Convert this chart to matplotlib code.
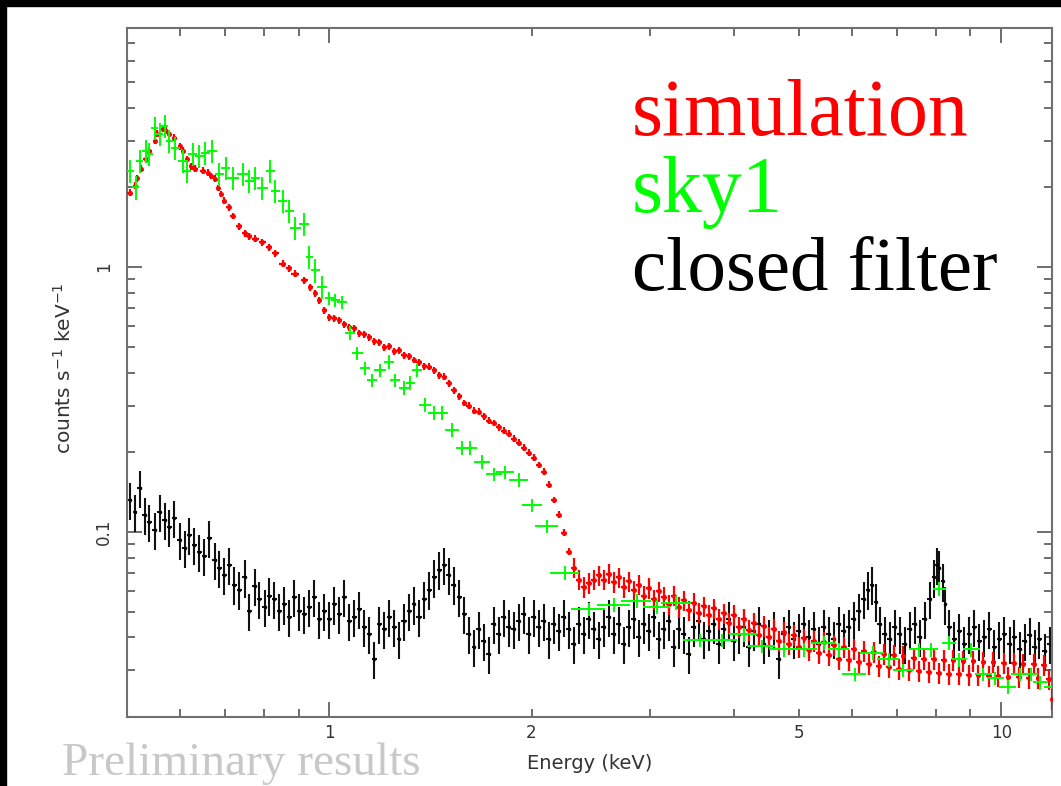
import numpy as np
import matplotlib
matplotlib.use("Agg")
import matplotlib.pyplot as plt
from matplotlib.patches import Rectangle

# ---- data (energy in keV, counts s^-1 keV^-1) ----
black_E = [0.505, 0.514, 0.522, 0.531, 0.540, 0.550, 0.559, 0.569, 0.578, 0.588,
           0.599, 0.609, 0.619, 0.630, 0.641, 0.652, 0.663, 0.675, 0.686, 0.698,
           0.710, 0.722, 0.735, 0.748, 0.760, 0.774, 0.787, 0.801, 0.814, 0.828,
           0.843, 0.857, 0.872, 0.887, 0.902, 0.918, 0.934, 0.950, 0.966, 0.983,
           1.000, 1.017, 1.035, 1.053, 1.071, 1.089, 1.108, 1.127, 1.147, 1.166,
           1.186, 1.207, 1.228, 1.249, 1.270, 1.292, 1.315, 1.337, 1.360, 1.384,
           1.408, 1.432, 1.457, 1.482, 1.507, 1.533, 1.560, 1.587, 1.614, 1.642,
           1.670, 1.699, 1.728, 1.758, 1.788, 1.819, 1.851, 1.883, 1.915, 1.948,
           1.982, 2.016, 2.051, 2.086, 2.122, 2.159, 2.196, 2.234, 2.272, 2.312,
           2.352, 2.392, 2.433, 2.475, 2.518, 2.562, 2.606, 2.651, 2.697, 2.743,
           2.791, 2.839, 2.888, 2.938, 2.988, 3.040, 3.092, 3.146, 3.200, 3.255,
           3.312, 3.369, 3.427, 3.486, 3.546, 3.608, 3.670, 3.733, 3.798, 3.863,
           3.930, 3.998, 4.067, 4.137, 4.209, 4.281, 4.355, 4.430, 4.507, 4.585,
           4.664, 4.745, 4.827, 4.910, 4.995, 5.081, 5.169, 5.258, 5.349, 5.441,
           5.535, 5.631, 5.728, 5.827, 5.928, 6.030, 6.134, 6.240, 6.326, 6.413,
           6.501, 6.590, 6.704, 6.820, 6.938, 7.058, 7.180, 7.304, 7.430, 7.558,
           7.689, 7.822, 7.929, 8.011, 8.093, 8.177, 8.261, 8.375, 8.520, 8.667,
           8.817, 8.969, 9.124, 9.282, 9.442, 9.605, 9.771, 9.940, 10.11, 10.29,
           10.46, 10.65, 10.83, 11.02, 11.21, 11.40, 11.60, 11.80]
black_y = [0.132, 0.119, 0.146, 0.116, 0.109, 0.102, 0.119, 0.111, 0.104, 0.113,
           0.0934, 0.0872, 0.0975, 0.0894, 0.0842, 0.0813, 0.0950, 0.0786, 0.0733, 0.0690,
           0.0752, 0.0633, 0.0606, 0.0673, 0.0501, 0.0627, 0.0556, 0.0519, 0.0575, 0.0556,
           0.0501, 0.0532, 0.0476, 0.0566, 0.0501, 0.0488, 0.0519, 0.0566, 0.0468, 0.0501,
           0.0468, 0.0532, 0.0488, 0.0566, 0.0460, 0.0476, 0.0510, 0.0437, 0.0411, 0.0331,
           0.0448, 0.0429, 0.0476, 0.0437, 0.0393, 0.0460, 0.0501, 0.0532, 0.0476, 0.0556,
           0.0606, 0.0673, 0.0721, 0.0752, 0.0690, 0.0633, 0.0566, 0.0488, 0.0411, 0.0367,
           0.0429, 0.0387, 0.0345, 0.0448, 0.0411, 0.0476, 0.0437, 0.0429, 0.0460, 0.0488,
           0.0411, 0.0476, 0.0437, 0.0460, 0.0393, 0.0448, 0.0422, 0.0476, 0.0429, 0.0377,
           0.0448, 0.0411, 0.0468, 0.0429, 0.0393, 0.0437, 0.0476, 0.0411, 0.0448, 0.0377,
           0.0437, 0.0468, 0.0400, 0.0448, 0.0422, 0.0476, 0.0393, 0.0429, 0.0460, 0.0367,
           0.0429, 0.0411, 0.0345, 0.0437, 0.0460, 0.0393, 0.0422, 0.0448, 0.0377, 0.0429,
           0.0468, 0.0387, 0.0411, 0.0437, 0.0367, 0.0422, 0.0448, 0.0377, 0.0400, 0.0429,
           0.0331, 0.0411, 0.0437, 0.0393, 0.0422, 0.0448, 0.0400, 0.0429, 0.0377, 0.0437,
           0.0411, 0.0393, 0.0448, 0.0422, 0.0437, 0.0468, 0.0501, 0.0556, 0.0606, 0.0633,
           0.0546, 0.0448, 0.0411, 0.0393, 0.0437, 0.0411, 0.0377, 0.0429, 0.0448, 0.0400,
           0.0468, 0.0556, 0.0673, 0.0752, 0.0733, 0.0650, 0.0532, 0.0437, 0.0393, 0.0422,
           0.0377, 0.0411, 0.0437, 0.0387, 0.0400, 0.0429, 0.0367, 0.0393, 0.0411, 0.0377,
           0.0400, 0.0361, 0.0387, 0.0407, 0.0367, 0.0393, 0.0354, 0.0377]

sim_E = [0.505, 0.514, 0.518, 0.524, 0.533, 0.540, 0.550, 0.555, 0.565, 0.571,
         0.578, 0.588, 0.599, 0.605, 0.615, 0.622, 0.632, 0.648, 0.659, 0.666,
         0.675, 0.682, 0.689, 0.698, 0.708, 0.718, 0.735, 0.748, 0.760, 0.776,
         0.795, 0.814, 0.831, 0.852, 0.872, 0.890, 0.918, 0.937, 0.953, 0.966,
         0.983, 1.000,
         1.017, 1.035, 1.053, 1.071, 1.089, 1.108, 1.127, 1.147, 1.166, 1.186,
         1.207, 1.228, 1.249, 1.270, 1.292, 1.315, 1.337, 1.360, 1.384, 1.408,
         1.432, 1.457, 1.482, 1.507, 1.533, 1.560, 1.587, 1.614, 1.642, 1.670,
         1.699, 1.728, 1.758, 1.788, 1.819, 1.851, 1.883, 1.915, 1.948, 1.982,
         2.016, 2.051, 2.086, 2.122, 2.159, 2.196, 2.234, 2.272, 2.312, 2.352,
         2.392, 2.433, 2.475, 2.518,
         2.562, 2.606, 2.651, 2.697, 2.743, 2.791, 2.839, 2.888, 2.938, 2.988,
         3.040, 3.092, 3.146, 3.200, 3.255, 3.312, 3.369, 3.427, 3.486, 3.546,
         3.608, 3.670, 3.733, 3.798, 3.863, 3.930, 3.998, 4.067, 4.137, 4.209,
         4.281, 4.355, 4.430, 4.507, 4.585, 4.664, 4.745, 4.827, 4.910, 4.995,
         5.081, 5.169, 5.258, 5.349, 5.441, 5.535, 5.631, 5.728, 5.827, 5.928,
         6.030, 6.134, 6.240, 6.346, 6.456, 6.567, 6.681, 6.796, 6.914, 7.033,
         7.154, 7.278, 7.404, 7.532, 7.662, 7.794, 7.929, 8.066, 8.205, 8.347,
         8.491, 8.638, 8.787, 8.939, 9.093, 9.250, 9.410, 9.573, 9.738, 9.906,
         10.08, 10.25, 10.43, 10.61, 10.79, 10.98, 11.17, 11.36, 11.56, 11.76,
         11.92]
sim_y = [1.91, 2.03, 2.17, 2.35, 2.56, 2.75, 3.00, 3.19, 3.33, 3.27,
         3.19, 3.08, 2.86, 2.75, 2.56, 2.40, 2.35, 2.31, 2.27, 2.21,
         2.16, 1.99, 1.89, 1.78, 1.68, 1.56, 1.43, 1.34, 1.31, 1.28,
         1.24, 1.19, 1.13, 1.03, 0.989, 0.946, 0.891, 0.840, 0.796, 0.749,
         0.687, 0.647,
         0.641, 0.630, 0.608, 0.593, 0.588, 0.563, 0.558, 0.544, 0.525, 0.521,
         0.498, 0.503, 0.481, 0.486, 0.465, 0.461, 0.446, 0.438, 0.423, 0.420,
         0.408, 0.391, 0.385, 0.365, 0.343, 0.326, 0.307, 0.300, 0.287, 0.284,
         0.274, 0.263, 0.258, 0.249, 0.241, 0.235, 0.225, 0.217, 0.208, 0.199,
         0.191, 0.179, 0.169, 0.151, 0.132, 0.116, 0.0992, 0.0842, 0.0733, 0.0661,
         0.0618, 0.0640, 0.0661, 0.0685,
         0.0661, 0.0696, 0.0645, 0.0673, 0.0618, 0.0650, 0.0601, 0.0633, 0.0575, 0.0612,
         0.0556, 0.0596, 0.0566, 0.0532, 0.0575, 0.0519, 0.0551, 0.0505, 0.0541, 0.0496,
         0.0523, 0.0484, 0.0514, 0.0468, 0.0492, 0.0452, 0.0484, 0.0437, 0.0468, 0.0426,
         0.0452, 0.0407, 0.0441, 0.0400, 0.0429, 0.0387, 0.0418, 0.0377, 0.0407, 0.0367,
         0.0396, 0.0358, 0.0387, 0.0348, 0.0384, 0.0342, 0.0374, 0.0332, 0.0367, 0.0328,
         0.0361, 0.0322, 0.0354, 0.0317, 0.0351, 0.0311, 0.0345, 0.0308, 0.0342, 0.0303,
         0.0339, 0.0300, 0.0335, 0.0298, 0.0332, 0.0295, 0.0331, 0.0293, 0.0328, 0.0291,
         0.0328, 0.0291, 0.0325, 0.0288, 0.0325, 0.0288, 0.0322, 0.0286, 0.0322, 0.0286,
         0.0319, 0.0283, 0.0319, 0.0283, 0.0317, 0.0281, 0.0317, 0.0281, 0.0314, 0.0278,
         0.0234]

sky_E = [0.505, 0.515, 0.522, 0.533, 0.540, 0.550, 0.559, 0.569, 0.578, 0.590,
         0.605, 0.615, 0.626, 0.641, 0.654, 0.670, 0.686, 0.701, 0.718, 0.743,
         0.760, 0.776, 0.795, 0.817, 0.831, 0.852, 0.872, 0.890, 0.918, 0.934,
         0.953, 0.976, 1.000, 1.021, 1.045, 1.074, 1.101, 1.131, 1.158, 1.190,
         1.228, 1.253, 1.293, 1.319, 1.351, 1.389, 1.432, 1.472, 1.523, 1.576,
         1.619, 1.688, 1.758, 1.826, 1.915, 2.003, 2.109, 2.242, 2.433, 2.651,
         2.868, 3.071, 3.285, 3.557, 3.837, 4.137, 4.400, 4.745, 5.081, 5.441,
         5.728, 6.050, 6.434, 6.796, 7.154, 7.532, 7.848, 8.093, 8.375, 8.667,
         9.030, 9.410, 9.798, 10.22, 10.65, 11.06, 11.44, 11.94]
sky_y = [2.31, 2.00, 2.52, 2.75, 2.68, 3.36, 3.19, 3.41, 3.00, 2.82,
         2.52, 2.31, 2.68, 2.63, 2.70, 2.75, 2.25, 2.37, 2.17, 2.25,
         2.12, 2.17, 1.99, 2.31, 1.94, 1.78, 1.63, 1.41, 1.46, 1.09,
         0.972, 0.840, 0.763, 0.749, 0.736, 0.563, 0.473, 0.415, 0.374, 0.408,
         0.438, 0.374, 0.350, 0.365, 0.408, 0.302, 0.281, 0.281, 0.243, 0.208,
         0.208, 0.184, 0.165, 0.168, 0.157, 0.126, 0.105, 0.070, 0.051, 0.053,
         0.055, 0.052, 0.054, 0.039, 0.039, 0.041, 0.037, 0.036, 0.036, 0.038,
         0.036, 0.029, 0.035, 0.033, 0.030, 0.036, 0.036, 0.061, 0.038, 0.033,
         0.036, 0.029, 0.028, 0.026, 0.029, 0.029, 0.027, 0.026]

black_E = np.array(black_E); black_y = np.array(black_y)
sim_E = np.array(sim_E); sim_y = np.array(sim_y)
sky_E = np.array(sky_E); sky_y = np.array(sky_y)

fig = plt.figure(figsize=(10.61, 7.86), dpi=100, facecolor='white')
# black border of the slide (top and left)
fig.add_artist(Rectangle((0, 1 - 6/786), 1, 6/786, transform=fig.transFigure,
                         color='black', zorder=0))
fig.add_artist(Rectangle((0, 0), 6/1061, 1, transform=fig.transFigure,
                         color='black', zorder=0))

ax = fig.add_axes([127/1061, 1 - 717/786, 925/1061, 689/786])
ax.set_xscale('log')
ax.set_yscale('log')

# closed filter
ax.errorbar(black_E, black_y, yerr=0.16*black_y, xerr=0.5*np.gradient(black_E),
            fmt='.', ms=3, color='black', ecolor='#111111', elinewidth=1.5, zorder=2)
# simulation
sim_err = np.where(sim_E < 2.3, 0.03, 0.09) * sim_y
ax.errorbar(sim_E, sim_y, yerr=sim_err, xerr=0.5*np.gradient(sim_E), fmt='o', ms=3.6,
            mew=0, color='#ff0000', ecolor='#ff0000', elinewidth=1.6, zorder=3)
# sky1
sky_err = np.where(sky_E < 1.0, 0.10, 0.06) * sky_y
ax.errorbar(sky_E, sky_y, yerr=sky_err, xerr=0.7*np.gradient(sky_E),
            fmt='none', ecolor='#00ff00', elinewidth=1.4, zorder=4)

ax.set_xlim(0.5, 11.9)
ax.set_ylim(0.02, 8.0)

sans = ['Liberation Sans Narrow', 'DejaVu Sans']
tick_col = '#333333'

ax.set_xticks([1, 10], labels=['1', '10'])
xminor = [0.6, 0.7, 0.8, 0.9, 2, 3, 4, 5, 6, 7, 8, 9]
ax.set_xticks(xminor, labels=['' if v not in (2, 5) else str(v) for v in xminor], minor=True)
ax.set_yticks([0.1, 1], labels=['0.1', '1'])
yminor = [0.02, 0.03, 0.04, 0.05, 0.06, 0.07, 0.08, 0.09,
          0.2, 0.3, 0.4, 0.5, 0.6, 0.7, 0.8, 0.9, 2, 3, 4, 5, 6, 7]
ax.set_yticks(yminor, labels=['']*len(yminor), minor=True)

ax.tick_params(which='both', direction='in', top=True, right=True, colors='#555555',
               labelcolor=tick_col, labelsize=12, pad=10)
ax.tick_params(axis='x', which='both', pad=5)
ax.tick_params(which='major', length=11, width=1.2)
ax.tick_params(which='minor', length=6, width=1.2)
for lab in ax.get_xticklabels(which='both') + ax.get_yticklabels(which='both'):
    lab.set_fontfamily(sans)
for lab in ax.get_yticklabels(which='both'):
    lab.set_rotation(90)
    lab.set_va('center')

for sp in ax.spines.values():
    sp.set_color('#707070')
    sp.set_linewidth(1.5)

ax.set_xlabel('Energy (keV)', fontsize=14, color=tick_col, family=sans)
ax.xaxis.set_label_coords(0.5, -0.068)
ax.xaxis.label.set_va('center')
ax.set_ylabel('counts s$^{-1}$ keV$^{-1}$', fontsize=14.5, color=tick_col, family=sans)
ax.yaxis.set_label_coords(-0.068, 0.506)
ax.yaxis.label.set_va('center')

serif = ['Liberation Serif', 'DejaVu Serif']
fig.text(632/1061, 1 - 135/786, 'simulation', color='#ff0000', fontsize=57.5,
         family=serif, va='baseline')
fig.text(632/1061, 1 - 212/786, 'sky1', color='#00ff00', fontsize=57.5,
         family=serif, va='baseline')
fig.text(632/1061, 1 - 290/786, 'closed filter', color='black', fontsize=55.5,
         family=serif, va='baseline')
fig.text(62/1061, 1 - 775/786, 'Preliminary results', color='#c8c8c8', fontsize=34,
         family=serif, va='baseline')

fig.savefig('out.png', dpi=100, facecolor='white')
